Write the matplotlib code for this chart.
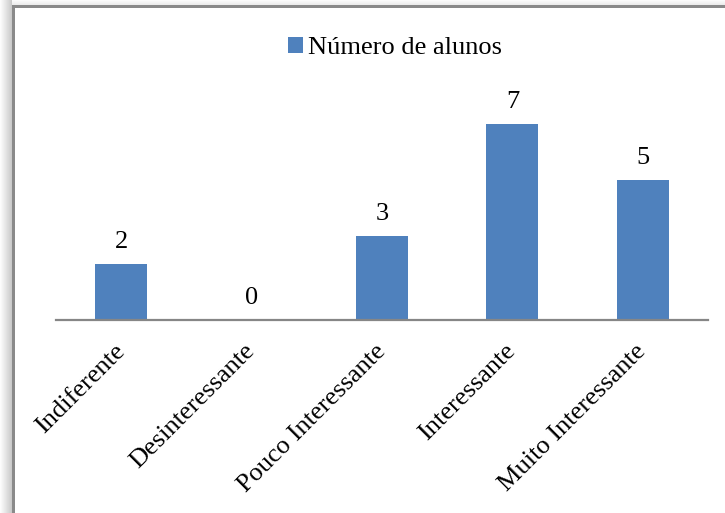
import numpy as np
import matplotlib.pyplot as plt
from matplotlib.patches import Rectangle

categorias = ["Indiferente", "Desinteressante", "Pouco Interessante", "Interessante", "Muito Interessante"]
alunos = [2, 0, 3, 7, 5]
serie = "Número de alunos"

plt.rcParams['font.family'] = ['Liberation Serif', 'DejaVu Serif']

W, H = 725, 513
fig = plt.figure(figsize=(W / 100, H / 100), dpi=100)

# moldura com sombra (estilo Excel)
for i in range(12):
    a = 0.01 + 0.018 * i
    fig.patches.append(Rectangle((i / W, 0), 1 / W, (H - 5 - 12 + i) / H + 1,
                                 transform=fig.transFigure, color='k', alpha=a, lw=0))
for i in range(5):
    a = 0.015 + 0.015 * i
    fig.patches.append(Rectangle((12 / W, (H - i - 1) / H), 1, 1 / H,
                                 transform=fig.transFigure, color='k', alpha=a, lw=0))
fig.patches.append(Rectangle((12 / W, 0), 2.5 / W, (H - 5) / H,
                             transform=fig.transFigure, color='#8a8a8a', lw=0))
fig.patches.append(Rectangle((12 / W, (H - 7.5) / H), 1, 2.5 / H,
                             transform=fig.transFigure, color='#8a8a8a', lw=0))

# area do grafico em pixels
x0, x1 = 56, 708
y_eixo, y_topo = 320, 90
ax = fig.add_axes([x0 / W, (H - y_eixo) / H, (x1 - x0) / W, (y_eixo - y_topo) / H])
escala = 28.0
ax.set_ylim(0, (y_eixo - y_topo) / escala)
ax.set_xlim(-0.5, len(categorias) - 0.5)

x = np.arange(len(categorias))
ax.bar(x, alunos, width=0.4, color='#4f81bd', label=serie, zorder=2)

for xi, v in zip(x, alunos):
    ax.annotate(str(v), (xi, v), xytext=(0, 8), textcoords='offset points',
                ha='center', va='bottom', fontsize=19)

for s in ['top', 'right', 'left']:
    ax.spines[s].set_visible(False)
ax.spines['bottom'].set_color('#868686')
ax.spines['bottom'].set_linewidth(1.6)
ax.set_yticks([])
ax.set_xticks(x)
ax.set_xticklabels(categorias, rotation=45, ha='right', va='center',
                   rotation_mode='anchor', fontsize=19)
ax.tick_params(axis='x', length=0, pad=20)

ax.legend(loc='center', bbox_to_anchor=(395 / W, (H - 48) / H), bbox_transform=fig.transFigure,
          frameon=False, fontsize=19, handlelength=0.55, handleheight=0.55,
          handletextpad=0.2, borderpad=0)

fig.savefig('out.png', dpi=100)
